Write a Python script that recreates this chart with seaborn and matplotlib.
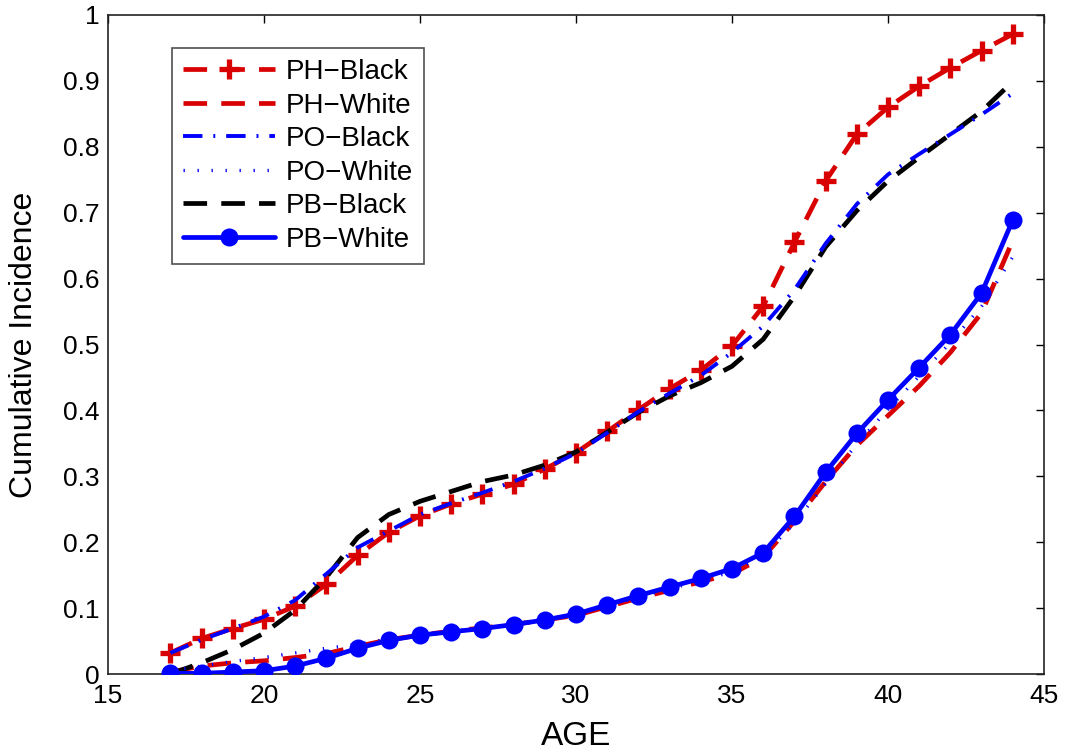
import numpy as np
import pandas as pd
import matplotlib
matplotlib.use("Agg")
import matplotlib.pyplot as plt
import seaborn as sns

age = list(range(17, 45))
ph_black = [0.032, 0.054, 0.069, 0.083, 0.103, 0.136, 0.180, 0.215, 0.240, 0.258, 0.273, 0.288, 0.311, 0.336,
            0.368, 0.401, 0.433, 0.461, 0.498, 0.558, 0.655, 0.748, 0.819, 0.860, 0.892, 0.920, 0.946, 0.971]
ph_white = [0.003, 0.012, 0.017, 0.020, 0.025, 0.031, 0.042, 0.052, 0.059, 0.065, 0.070, 0.075, 0.082, 0.089,
            0.102, 0.115, 0.127, 0.140, 0.152, 0.177, 0.232, 0.292, 0.347, 0.392, 0.437, 0.488, 0.548, 0.658]
po_black = [0.032, 0.052, 0.069, 0.087, 0.112, 0.152, 0.192, 0.217, 0.242, 0.259, 0.275, 0.292, 0.312, 0.335,
            0.366, 0.398, 0.426, 0.453, 0.488, 0.528, 0.583, 0.653, 0.713, 0.758, 0.789, 0.819, 0.849, 0.881]
po_white = [0.005, 0.012, 0.019, 0.025, 0.032, 0.039, 0.045, 0.053, 0.059, 0.065, 0.070, 0.075, 0.082, 0.090,
            0.103, 0.117, 0.129, 0.142, 0.155, 0.180, 0.229, 0.289, 0.349, 0.402, 0.452, 0.503, 0.558, 0.633]
pb_black = [0.000, 0.017, 0.037, 0.062, 0.097, 0.147, 0.207, 0.242, 0.262, 0.277, 0.292, 0.302, 0.317, 0.337,
            0.367, 0.397, 0.422, 0.442, 0.467, 0.508, 0.573, 0.648, 0.703, 0.748, 0.784, 0.819, 0.854, 0.899]
pb_white = [0.001, 0.001, 0.003, 0.005, 0.012, 0.024, 0.039, 0.051, 0.059, 0.064, 0.069, 0.075, 0.082, 0.091,
            0.105, 0.119, 0.132, 0.145, 0.160, 0.184, 0.239, 0.306, 0.365, 0.416, 0.465, 0.515, 0.578, 0.689]

series_names = ["PH\u2212Black", "PH\u2212White", "PO\u2212Black", "PO\u2212White", "PB\u2212Black", "PB\u2212White"]
series_vals = [ph_black, ph_white, po_black, po_white, pb_black, pb_white]
x_ticks = [15, 20, 25, 30, 35, 40, 45]
y_ticks = [0, 0.1, 0.2, 0.3, 0.4, 0.5, 0.6, 0.7, 0.8, 0.9, 1]
y_ticklabels = ["0", "0.1", "0.2", "0.3", "0.4", "0.5", "0.6", "0.7", "0.8", "0.9", "1"]

sns.set_style("white")
plt.rcParams['font.family'] = ['Liberation Sans', 'DejaVu Sans']
plt.rcParams['text.color'] = 'black'
plt.rcParams['axes.labelcolor'] = 'black'
plt.rcParams['xtick.color'] = 'black'
plt.rcParams['ytick.color'] = 'black'

fig = plt.figure(figsize=(10.66, 7.56), dpi=100)
ax = fig.add_axes([108 / 1066, 82 / 756, 936 / 1066, 659 / 756])

RED = "#d80000"
BLUE = "#0000ff"
styles = [
    dict(color=RED, dashes=(5, 3), marker="+", markersize=14, mew=3.8, lw=3.4, zorder=3),
    dict(color=RED, dashes=(5, 3), marker=None, markersize=0, mew=0, lw=3.4, zorder=2),
    dict(color=BLUE, dashes=(5, 2.8, 0.5, 2.8), marker=None, markersize=0, mew=0, lw=2.8, zorder=4),
    dict(color=BLUE, dashes=(0.4, 3.8), marker=None, markersize=0, mew=0, lw=2.4, zorder=4),
    dict(color="#000000", dashes=(5, 3), marker=None, markersize=0, mew=0, lw=3.4, zorder=3),
    dict(color=BLUE, dashes=None, marker="o", markersize=13, mew=0, lw=3.4, zorder=5),
]

for name, vals, st in zip(series_names, series_vals, styles):
    df = pd.DataFrame({"age": age, "val": vals})
    kw = dict(x="age", y="val", data=df, ax=ax, color=st["color"], linewidth=st["lw"],
              label=name, zorder=st["zorder"])
    if st["marker"]:
        kw.update(marker=st["marker"], markersize=st["markersize"], markeredgewidth=st["mew"],
                  markeredgecolor=st["color"])
    sns.lineplot(**kw)
    ln = ax.get_lines()[-1]
    if st["dashes"] is not None:
        ln.set_dashes(st["dashes"])

ax.set_xlim(15, 45)
ax.set_ylim(0, 1)
ax.set_xticks(x_ticks)
ax.set_yticks(y_ticks)
ax.set_yticklabels(y_ticklabels)
ax.tick_params(direction="in", length=6, width=1, top=True, right=True, labelsize=19, colors="#000000")
ax.tick_params(axis="y", pad=6)
ax.tick_params(axis="x", pad=7)
for sp in ax.spines.values():
    sp.set_color("#222222")
    sp.set_linewidth(1.2)
    sp.set_visible(True)

ax.set_xlabel("AGE", fontsize=24)
ax.xaxis.set_label_coords(0.5, -0.072)
ax.set_ylabel("Cumulative Incidence", fontsize=23)
ax.yaxis.set_label_coords(-0.074, 0.5)

leg = ax.legend(loc="upper left", bbox_to_anchor=(0.0684, 0.950), borderaxespad=0, fontsize=20,
                handlelength=3.3, frameon=True, fancybox=False, edgecolor="#222222", borderpad=0.4,
                labelspacing=0.27, handletextpad=0.4)
leg.get_frame().set_linewidth(1.2)
for t in leg.get_texts():
    t.set_color("black")

fig.savefig("out.png", dpi=100)
